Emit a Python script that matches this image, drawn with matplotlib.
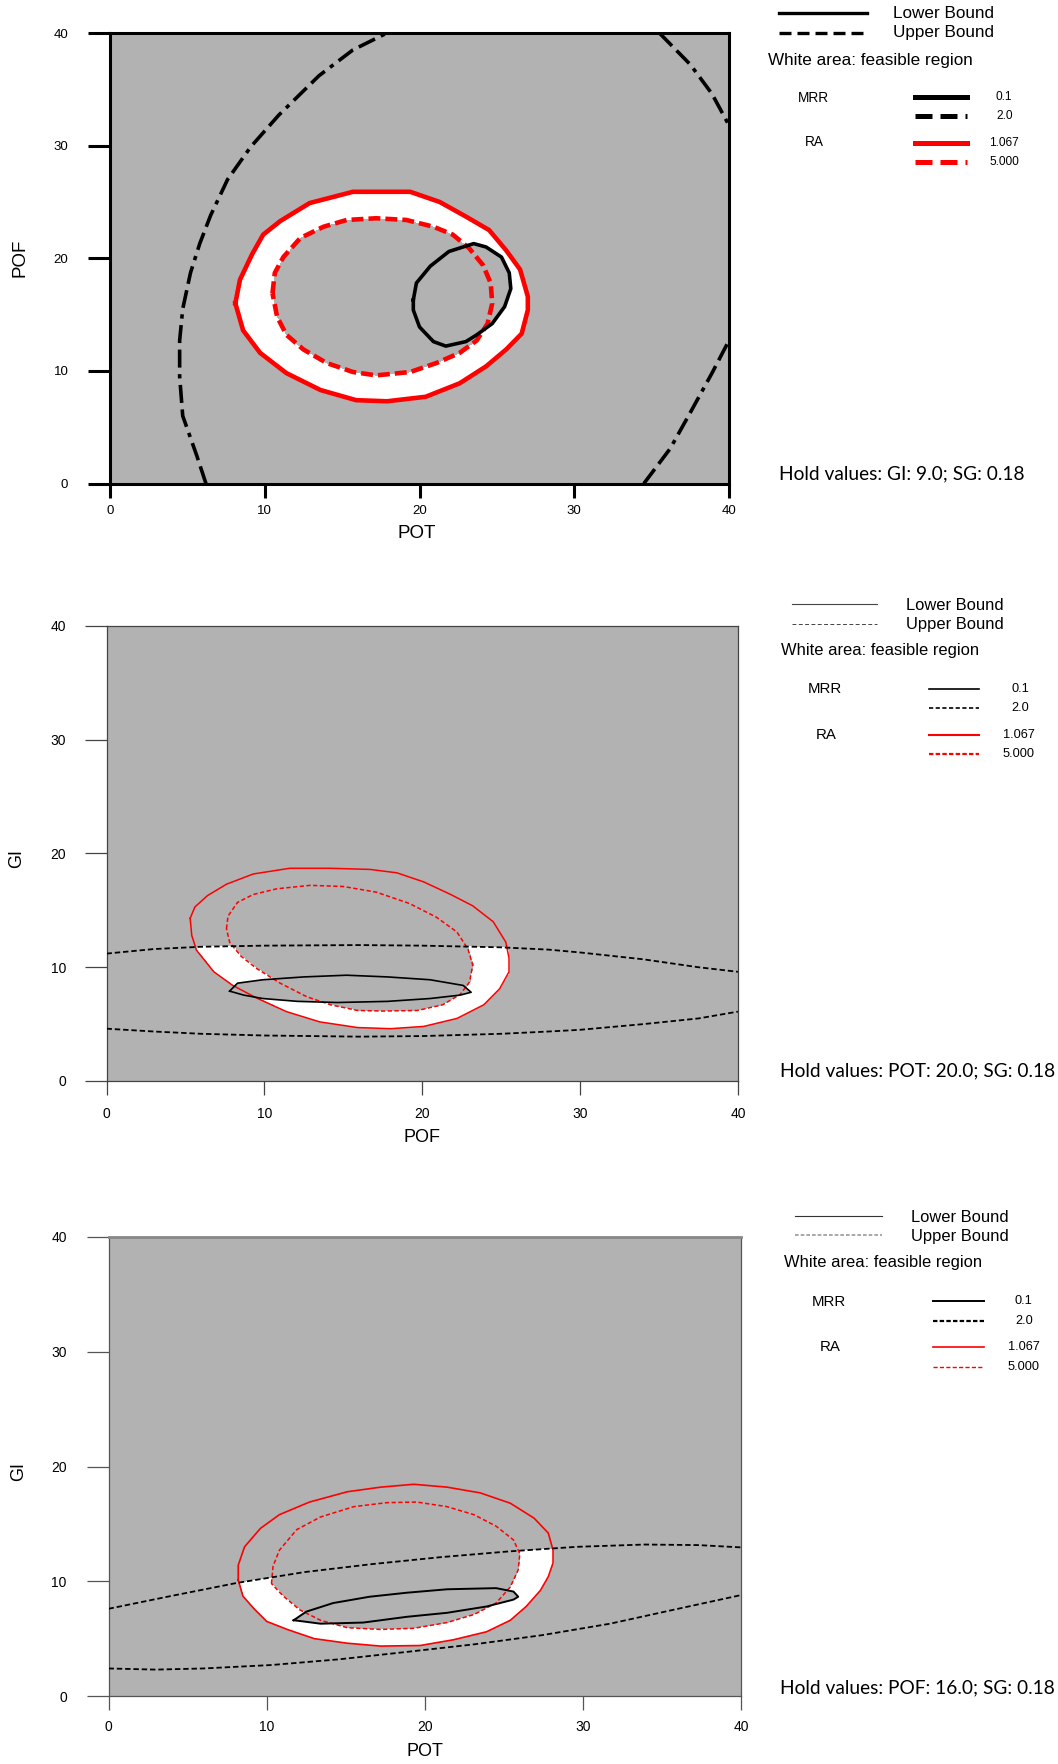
import numpy as np
import matplotlib
matplotlib.use('Agg')
import matplotlib.pyplot as plt
from matplotlib.path import Path
from matplotlib.lines import Line2D
from matplotlib.colors import ListedColormap

W, H = 1058, 1764
plt.rcParams['font.family'] = ['Liberation Sans', 'DejaVu Sans']

# ---------------- Panel 1 : POT (x) vs POF (y); hold GI 9.0, SG 0.18
p1_ra_lo_x = [8.1, 8.4, 9.2, 9.9, 11.0, 12.9, 15.7, 19.4, 21.3, 23.0, 24.5, 25.6, 26.5, 27.0, 27.0, 26.6, 25.6, 24.3, 22.6, 20.4, 17.9, 15.9, 13.6, 11.4, 9.7, 8.6]
p1_ra_lo_y = [16.0, 18.1, 20.4, 22.1, 23.3, 24.9, 25.9, 25.9, 25.0, 23.7, 22.5, 20.7, 19.0, 16.6, 15.4, 13.3, 11.9, 10.4, 8.9, 7.7, 7.3, 7.4, 8.3, 9.8, 11.6, 13.6]
p1_ra_hi_x = [10.5, 10.65, 11.2, 12.3, 13.8, 15.3, 17.2, 19.15, 20.9, 22.15, 23.2, 24.1, 24.6, 24.7, 24.4, 23.7, 22.6, 21.1, 19.4, 17.2, 15.7, 14.0, 12.5, 11.4, 10.8]
p1_ra_hi_y = [16.9, 18.7, 20.1, 21.8, 22.8, 23.4, 23.55, 23.4, 22.8, 22.1, 20.9, 19.4, 17.8, 16.0, 14.2, 12.7, 11.6, 10.7, 9.9, 9.6, 9.9, 10.7, 11.9, 13.2, 14.8]
p1_mrr_lo_x = [19.6, 19.8, 20.7, 21.9, 23.5, 24.3, 25.3, 25.8, 25.9, 25.5, 24.7, 23.7, 23.0, 21.7, 20.9, 20.0, 19.6]
p1_mrr_lo_y = [16.3, 17.8, 19.3, 20.6, 21.3, 21.0, 20.1, 18.7, 17.3, 15.7, 14.2, 13.2, 12.6, 12.2, 12.6, 13.9, 15.4]
p1_mrr_hi_left_x = [6.2, 5.6, 4.7, 4.5, 4.5, 4.7, 5.2, 5.8, 6.5, 7.6, 9.1, 10.9, 13.5, 15.7, 17.9]
p1_mrr_hi_left_y = [0.0, 2.5, 6.0, 9.5, 12.7, 15.5, 18.7, 21.3, 23.8, 27.0, 29.9, 32.7, 36.2, 38.5, 40.0]
p1_mrr_hi_rtop_x = [35.5, 37.5, 38.9, 40.0]
p1_mrr_hi_rtop_y = [40.0, 37.2, 34.6, 31.8]
p1_mrr_hi_rbot_x = [34.5, 36.2, 37.5, 38.9, 40.0]
p1_mrr_hi_rbot_y = [0.0, 3.1, 6.3, 9.8, 12.7]

# ---------------- Panel 2 : POF (x) vs GI (y); hold POT 20.0, SG 0.18
p2_ra_lo_x = [5.3, 5.4, 5.7, 6.8, 8.0, 9.5, 11.4, 13.5, 15.9, 18.0, 20.1, 22.2, 23.9, 24.9, 25.5, 25.5, 25.3, 24.5, 23.2, 21.8, 20.1, 18.4, 16.7, 14.2, 11.6, 9.3, 7.6, 6.4, 5.6]
p2_ra_lo_y = [14.3, 12.8, 11.5, 9.6, 8.4, 7.3, 6.1, 5.2, 4.7, 4.6, 4.8, 5.5, 6.7, 8.1, 9.6, 10.8, 12.2, 14.0, 15.4, 16.4, 17.5, 18.3, 18.6, 18.7, 18.7, 18.2, 17.3, 16.3, 15.3]
p2_ra_hi_x = [7.6, 7.7, 8.3, 9.3, 10.8, 12.9, 15.0, 17.1, 19.2, 20.9, 22.2, 22.9, 23.2, 23.0, 22.4, 21.3, 19.7, 17.5, 15.9, 14.2, 12.7, 11.0, 9.5, 8.5, 7.8]
p2_ra_hi_y = [13.4, 14.5, 15.7, 16.4, 16.9, 17.2, 17.1, 16.6, 15.6, 14.4, 13.1, 11.6, 10.2, 8.7, 7.6, 6.7, 6.2, 6.15, 6.2, 6.7, 7.4, 8.6, 9.9, 11.0, 12.2]
p2_mrr_lo_x = [7.8, 8.3, 9.9, 12.5, 15.2, 17.8, 20.5, 22.6, 23.1, 22.4, 20.5, 17.8, 14.6, 12.1, 9.9, 8.7]
p2_mrr_lo_y = [7.9, 8.6, 8.9, 9.15, 9.3, 9.15, 8.9, 8.4, 7.8, 7.55, 7.25, 7.0, 6.9, 7.0, 7.25, 7.55]
p2_mrr_hi_up_x = [0, 3, 6, 10, 16, 20, 25, 28, 30, 34, 37.5, 40]
p2_mrr_hi_up_y = [11.2, 11.6, 11.8, 11.9, 11.95, 11.9, 11.75, 11.55, 11.3, 10.7, 10.0, 9.6]
p2_mrr_hi_dn_x = [0, 3, 6, 10, 16, 20, 25, 28, 30, 34, 37.5, 40]
p2_mrr_hi_dn_y = [4.6, 4.35, 4.15, 4.0, 3.9, 3.95, 4.15, 4.35, 4.5, 5.0, 5.5, 6.1]

# ---------------- Panel 3 : POT (x) vs GI (y); hold POF 16.0, SG 0.18
p3_ra_lo_x = [8.2, 8.2, 8.6, 9.6, 10.8, 12.7, 15.1, 17.2, 19.3, 21.4, 23.5, 25.4, 26.9, 27.8, 28.1, 28.1, 27.8, 27.3, 26.4, 25.4, 23.9, 21.8, 19.7, 17.2, 15.1, 13.0, 11.3, 10.0, 9.2, 8.5]
p3_ra_lo_y = [10.1, 11.4, 13.0, 14.6, 15.8, 16.9, 17.8, 18.2, 18.45, 18.2, 17.7, 16.8, 15.5, 14.2, 12.7, 11.6, 10.4, 9.2, 7.8, 6.6, 5.6, 4.9, 4.4, 4.35, 4.6, 5.0, 5.8, 6.5, 7.6, 8.7]
p3_ra_hi_x = [10.3, 10.4, 10.8, 11.9, 13.4, 15.5, 17.6, 19.5, 21.4, 23.1, 24.5, 25.6, 26.0, 25.9, 25.4, 24.5, 23.1, 21.4, 19.3, 17.2, 15.1, 13.4, 12.1, 11.05]
p3_ra_hi_y = [9.8, 11.3, 12.7, 14.5, 15.6, 16.5, 16.85, 16.9, 16.5, 15.8, 14.8, 13.6, 12.4, 11.0, 9.5, 8.1, 7.1, 6.4, 5.9, 5.8, 5.95, 6.6, 7.5, 8.7]
p3_mrr_lo_x = [11.7, 12.5, 14.2, 16.5, 18.85, 21.4, 24.5, 25.6, 25.9, 25.6, 23.9, 21.4, 18.85, 16.1, 13.4, 12.3]
p3_mrr_lo_y = [6.6, 7.35, 8.1, 8.65, 9.0, 9.3, 9.4, 9.1, 8.65, 8.4, 7.8, 7.25, 6.9, 6.4, 6.3, 6.5]
p3_mrr_hi_up_x = [0, 3.9, 8.1, 12.4, 16.7, 21.0, 25.3, 29.6, 33.9, 37.3, 40]
p3_mrr_hi_up_y = [7.6, 8.7, 9.85, 10.8, 11.5, 12.1, 12.6, 13.0, 13.2, 13.15, 12.95]
p3_mrr_hi_dn_x = [0, 3, 6, 10.3, 14.6, 18.9, 23.1, 27.4, 31.7, 36, 40]
p3_mrr_hi_dn_y = [2.4, 2.3, 2.4, 2.7, 3.2, 3.85, 4.5, 5.3, 6.3, 7.6, 8.8]

ticks = [0, 10, 20, 30, 40]
tick_labels = ['0', '10', '20', '30', '40']
legend_bounds = ['Lower Bound', 'Upper Bound']
legend_note = 'White area: feasible region'
legend_resp = ['MRR', 'RA']
legend_levels = ['0.1', '2.0', '1.067', '5.000']
hold_texts = ['Hold values: GI: 9.0; SG: 0.18',
              'Hold values: POT: 20.0; SG: 0.18',
              'Hold values: POF: 16.0; SG: 0.18']
xlabels = ['POT', 'POF', 'POT']
ylabels = ['POF', 'GI', 'GI']

GREY = '#b2b2b2'
RED = '#ff0000'
HOLD_FONT = ['Lato', 'DejaVu Sans']

fig = plt.figure(figsize=(W / 100, H / 100), dpi=100)


def fx(px):
    return px / W


def fy(py):
    return 1 - py / H


def hline(x0, x1, y, **kw):
    fig.add_artist(Line2D([fx(x0), fx(x1)], [fy(y), fy(y)],
                          transform=fig.transFigure, **kw))


def ftext(x, y, s, **kw):
    kw.setdefault('va', 'center')
    fig.text(fx(x), fy(y), s, **kw)


def closed(x, y):
    return list(x) + [x[0]], list(y) + [y[0]]


def inside(px, py, x, y):
    verts = np.column_stack([x, y])
    return Path(verts).contains_points(np.column_stack([px, py])).reshape(-1)


def make_axes(rect_px, st):
    x0, x1, ytop, ybot = rect_px
    ax = fig.add_axes([fx(x0), fy(ybot), (x1 - x0) / W, (ybot - ytop) / H])
    ax.set_xlim(0, 40)
    ax.set_ylim(0, 40)
    ax.set_xticks(ticks)
    ax.set_yticks(ticks)
    ax.set_xticklabels(tick_labels)
    ax.set_yticklabels(tick_labels)
    for s in ax.spines.values():
        s.set_color(st['spine_c'])
        s.set_linewidth(st['spine_lw'])
    if 'top_lw' in st:
        ax.spines['top'].set_linewidth(st['top_lw'])
    ax.tick_params(axis='y', direction='out', length=16, width=st['tick_w'],
                   color=st['spine_c'], pad=st['ypad'], labelsize=st['tick_fs'])
    ax.tick_params(axis='x', direction='out', length=10, width=st['tick_w'],
                   color=st['spine_c'], pad=st['xpad'], labelsize=st['tick_fs'])
    return ax


def fill_feasible(ax, ra_lo, ra_hi, mrr_lo, mrr_band):
    n = 900
    g = (np.arange(n) + 0.5) * 40 / n
    GX, GY = np.meshgrid(g, g)
    px, py = GX.ravel(), GY.ravel()
    m = inside(px, py, *ra_lo)
    m &= ~inside(px, py, *ra_hi)
    m &= ~inside(px, py, *mrr_lo)
    m &= inside(px, py, *mrr_band)
    ax.imshow(m.reshape(n, n).astype(float), extent=[0, 40, 0, 40], origin='lower',
              cmap=ListedColormap([GREY, 'white']), vmin=0, vmax=1,
              aspect='auto', interpolation='nearest', zorder=0)


# ================= Panel 1 =================
st1 = dict(spine_c='black', spine_lw=2.2, tick_w=2.2, ypad=14, xpad=5.5, tick_fs=9.5)
ax1 = make_axes((110, 729, 33, 483.5), st1)
band1_x = p1_mrr_hi_left_x + p1_mrr_hi_rtop_x + p1_mrr_hi_rbot_x[::-1]
band1_y = p1_mrr_hi_left_y + p1_mrr_hi_rtop_y + p1_mrr_hi_rbot_y[::-1]
fill_feasible(ax1, (p1_ra_lo_x, p1_ra_lo_y), (p1_ra_hi_x, p1_ra_hi_y),
              (p1_mrr_lo_x, p1_mrr_lo_y), (band1_x, band1_y))
ax1.plot(*closed(p1_ra_lo_x, p1_ra_lo_y), color=RED, lw=3.3, zorder=3)
ax1.plot(*closed(p1_ra_hi_x, p1_ra_hi_y), color=RED, lw=3.3, dashes=(2.6, 1.1), zorder=3)
ax1.plot(*closed(p1_mrr_lo_x, p1_mrr_lo_y), color='black', lw=2.6, zorder=4)
for cx, cy in [(p1_mrr_hi_left_x, p1_mrr_hi_left_y), (p1_mrr_hi_rtop_x, p1_mrr_hi_rtop_y),
               (p1_mrr_hi_rbot_x, p1_mrr_hi_rbot_y)]:
    ax1.plot(cx, cy, color='black', lw=2.6,
             dashes=(5.0, 1.8, 5.0, 1.8, 1.2, 1.8), zorder=4)
ax1.set_xlabel(xlabels[0], fontsize=13.5)
ax1.set_ylabel(ylabels[0], fontsize=13.5)
ax1.xaxis.set_label_coords(0.495, (483.5 - 533) / 450.5)
ax1.xaxis.label.set_va('center')
ax1.yaxis.set_label_coords((20 - 110) / 619, 0.5)
ax1.yaxis.label.set_va('center')

# legend panel 1
hline(779, 867, 13, color='black', lw=2.4)
hline(779, 867, 32.5, color='black', lw=2.4, dashes=(3.6, 1.8))
ftext(893, 14, legend_bounds[0], fontsize=12.3)
ftext(893, 33, legend_bounds[1], fontsize=12.3)
ftext(768, 60, legend_note, fontsize=12.3)
ftext(798, 98, legend_resp[0], fontsize=9.8)
ftext(805, 142, legend_resp[1], fontsize=9.8)
hline(915, 967, 97, color='black', lw=3.6)
hline(915, 967, 116, color='black', lw=3.6, dashes=(3.4, 1.6))
hline(915, 967, 143, color=RED, lw=3.6)
hline(915, 967, 162, color=RED, lw=3.6, dashes=(3.4, 1.6))
ftext(996, 97, legend_levels[0], fontsize=8.6)
ftext(996, 116, legend_levels[1], fontsize=8.6)
ftext(989, 143, legend_levels[2], fontsize=8.6)
ftext(989, 162, legend_levels[3], fontsize=8.6)
ftext(779, 474, hold_texts[0], fontsize=13.8, family=HOLD_FONT)

# ================= Panel 2 =================
st2 = dict(spine_c='#444444', spine_lw=0.9, tick_w=0.9, ypad=13, xpad=8.5, tick_fs=10)
ax2 = make_axes((106.5, 737.9, 626, 1081), st2)
band2_x = p2_mrr_hi_up_x + p2_mrr_hi_dn_x[::-1]
band2_y = p2_mrr_hi_up_y + p2_mrr_hi_dn_y[::-1]
fill_feasible(ax2, (p2_ra_lo_x, p2_ra_lo_y), (p2_ra_hi_x, p2_ra_hi_y),
              (p2_mrr_lo_x, p2_mrr_lo_y), (band2_x, band2_y))
ax2.plot(*closed(p2_ra_lo_x, p2_ra_lo_y), color=RED, lw=1.1, zorder=3)
ax2.plot(*closed(p2_ra_hi_x, p2_ra_hi_y), color=RED, lw=1.1, dashes=(2.8, 1.6), zorder=3)
ax2.plot(*closed(p2_mrr_lo_x, p2_mrr_lo_y), color='black', lw=1.2, zorder=4)
ax2.plot(p2_mrr_hi_up_x, p2_mrr_hi_up_y, color='black', lw=1.3, dashes=(3, 1.6), zorder=4)
ax2.plot(p2_mrr_hi_dn_x, p2_mrr_hi_dn_y, color='black', lw=1.3, dashes=(3, 1.6), zorder=4)
ax2.set_xlabel(xlabels[1], fontsize=13)
ax2.set_ylabel(ylabels[1], fontsize=13)
ax2.xaxis.set_label_coords(0.5, (1081 - 1137.5) / 455)
ax2.xaxis.label.set_va('center')
ax2.yaxis.set_label_coords((17 - 106.5) / 631.4, 0.49)
ax2.yaxis.label.set_va('center')

hline(792, 877, 604, color='#444444', lw=0.8)
hline(792, 877, 624, color='#444444', lw=0.7, dashes=(4, 2.5))
ftext(906, 605, legend_bounds[0], fontsize=11.9)
ftext(906, 624.5, legend_bounds[1], fontsize=11.9)
ftext(781, 651, legend_note, fontsize=11.9)
ftext(808, 689, legend_resp[0], fontsize=10.8)
ftext(816, 735, legend_resp[1], fontsize=10.8)
hline(929, 979, 689, color='black', lw=1.2)
hline(929, 979, 708, color='black', lw=1.2, dashes=(2.5, 1.5))
hline(929, 979, 735, color=RED, lw=1.5)
hline(929, 979, 754, color=RED, lw=1.6, dashes=(2.0, 1.0))
ftext(1011, 689, legend_levels[0], fontsize=9.2)
ftext(1011, 708, legend_levels[1], fontsize=9.2)
ftext(1003, 735, legend_levels[2], fontsize=9.2)
ftext(1003, 754, legend_levels[3], fontsize=9.2)
ftext(780, 1071, hold_texts[1], fontsize=13.8, family=HOLD_FONT)

# ================= Panel 3 =================
st3 = dict(spine_c='#555555', spine_lw=0.9, top_lw=2.0, tick_w=0.9, ypad=14, xpad=7, tick_fs=10)
ax3 = make_axes((108.5, 741.3, 1237, 1696), st3)
ax3.spines['top'].set_color('#888888')
band3_x = p3_mrr_hi_up_x + p3_mrr_hi_dn_x[::-1]
band3_y = p3_mrr_hi_up_y + p3_mrr_hi_dn_y[::-1]
fill_feasible(ax3, (p3_ra_lo_x, p3_ra_lo_y), (p3_ra_hi_x, p3_ra_hi_y),
              (p3_mrr_lo_x, p3_mrr_lo_y), (band3_x, band3_y))
ax3.plot(*closed(p3_ra_lo_x, p3_ra_lo_y), color=RED, lw=1.2, zorder=3)
ax3.plot(*closed(p3_ra_hi_x, p3_ra_hi_y), color=RED, lw=1.1, dashes=(2.8, 1.6), zorder=3)
ax3.plot(*closed(p3_mrr_lo_x, p3_mrr_lo_y), color='black', lw=1.4, zorder=4)
ax3.plot(p3_mrr_hi_up_x, p3_mrr_hi_up_y, color='black', lw=1.3, dashes=(3, 1.6), zorder=4)
ax3.plot(p3_mrr_hi_dn_x, p3_mrr_hi_dn_y, color='black', lw=1.3, dashes=(3, 1.6), zorder=4)
ax3.set_xlabel(xlabels[2], fontsize=13)
ax3.set_ylabel(ylabels[2], fontsize=13)
ax3.xaxis.set_label_coords(0.5, (1696 - 1752) / 459)
ax3.xaxis.label.set_va('center')
ax3.yaxis.set_label_coords((19 - 108.5) / 632.8, 0.49)
ax3.yaxis.label.set_va('center')

hline(795, 882, 1216, color='#333333', lw=0.8)
hline(795, 882, 1235, color='#999999', lw=1.2, dashes=(2.2, 1.2))
ftext(911, 1217, legend_bounds[0], fontsize=11.9)
ftext(911, 1236, legend_bounds[1], fontsize=11.9)
ftext(784, 1262, legend_note, fontsize=11.9)
ftext(812, 1302, legend_resp[0], fontsize=10.8)
ftext(820, 1347, legend_resp[1], fontsize=10.8)
hline(933, 984, 1301, color='black', lw=1.4)
hline(933, 984, 1321, color='black', lw=1.6, dashes=(2.0, 1.0))
hline(933, 984, 1347, color=RED, lw=1.2)
hline(933, 984, 1367, color=RED, lw=1.0, dashes=(3, 1.6))
ftext(1015, 1301, legend_levels[0], fontsize=9.2)
ftext(1015, 1321, legend_levels[1], fontsize=9.2)
ftext(1008, 1347, legend_levels[2], fontsize=9.2)
ftext(1008, 1367, legend_levels[3], fontsize=9.2)
ftext(780, 1688, hold_texts[2], fontsize=13.8, family=HOLD_FONT)

fig.savefig('out.png', dpi=100)
